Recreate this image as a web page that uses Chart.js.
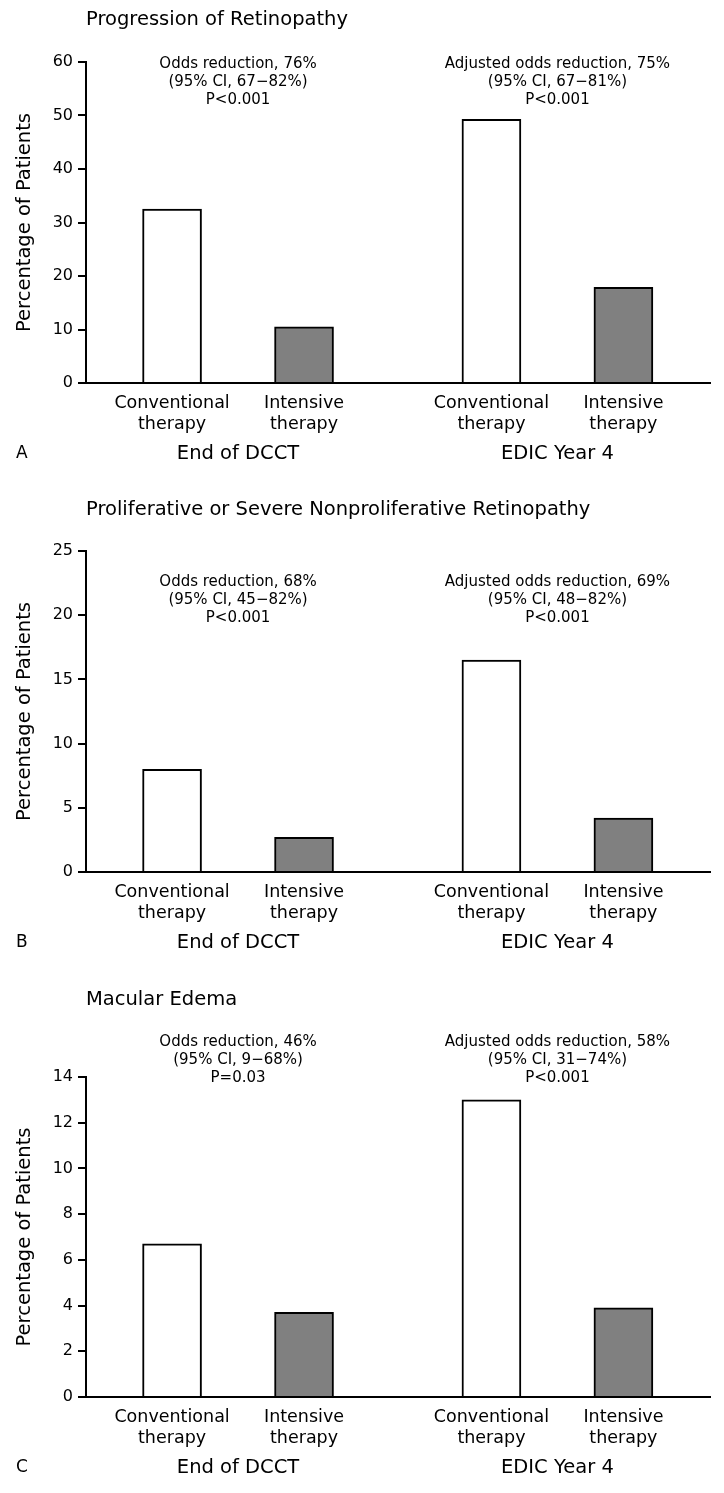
<!DOCTYPE html>
<html>
<head>
<meta charset="utf-8">
<script src="https://cdn.jsdelivr.net/npm/chart.js@4"></script>
<style>
  body { margin: 0; background: #fff; }
  .panel { position: absolute; left: 0; }
</style>
</head>
<body>
<canvas id="panelA" class="panel" width="724" height="490" style="top:0px"></canvas>
<canvas id="panelB" class="panel" width="724" height="490" style="top:490px"></canvas>
<canvas id="panelC" class="panel" width="724" height="513" style="top:980px"></canvas>
<script>
// categories
const groups = ["End of DCCT", "EDIC Year 4"];
const therapies = [["Conventional", "therapy"], ["Intensive", "therapy"], ["Conventional", "therapy"], ["Intensive", "therapy"]];

// series values (% of patients: conventional, intensive, conventional, intensive)
const progression = [32.5, 10.5, 49.3, 17.9];
const severeRetinopathy = [8.0, 2.7, 16.5, 4.2];
const macularEdema = [6.7, 3.7, 13.0, 3.9];

// y tick labels
const ticksA = [0, 10, 20, 30, 40, 50, 60];
const ticksB = [0, 5, 10, 15, 20, 25];
const ticksC = [0, 2, 4, 6, 8, 10, 12, 14];

// annotation texts
const notesA = [["Odds reduction, 76%", "(95% CI, 67\u221282%)", "P<0.001"], ["Adjusted odds reduction, 75%", "(95% CI, 67\u221281%)", "P<0.001"]];
const notesB = [["Odds reduction, 68%", "(95% CI, 45\u221282%)", "P<0.001"], ["Adjusted odds reduction, 69%", "(95% CI, 48\u221282%)", "P<0.001"]];
const notesC = [["Odds reduction, 46%", "(95% CI, 9\u221268%)", "P=0.03"], ["Adjusted odds reduction, 58%", "(95% CI, 31\u221274%)", "P<0.001"]];

// bar slots on the x axis (gap between the two groups)
const slots = [0, 1, 2.42, 3.42];
const fills = ["#ffffff", "#808080", "#ffffff", "#808080"];
const FONT = '"DejaVu Sans", sans-serif';

const panelText = {
    id: "panelText",
    afterDraw(chart, args, o) {
        const { ctx, chartArea } = chart;
        const x = chart.scales.x;
        ctx.save();
        ctx.fillStyle = "#000";
        ctx.textBaseline = "middle";

        ctx.textAlign = "left";
        ctx.font = "19.5px " + FONT;
        ctx.fillText(o.title, chartArea.left, 20);

        ctx.font = "17px " + FONT;
        ctx.fillText(o.letter, 16, chartArea.bottom + 71);

        ctx.textAlign = "center";
        groups.forEach((g, i) => {
            const cx = (x.getPixelForValue(slots[i * 2]) + x.getPixelForValue(slots[i * 2 + 1])) / 2;
            ctx.font = "19.5px " + FONT;
            ctx.fillText(g, cx, chartArea.bottom + 71);
            ctx.font = "15px " + FONT;
            o.notes[i].forEach((line, j) => {
                ctx.fillText(line, cx, o.noteTop + j * 18);
            });
        });
        ctx.restore();
    }
};

function makePanel(id, values, yTicks, title, letter, notes, noteTop, padTop, xHeight) {
    new Chart(document.getElementById(id), {
        type: "bar",
        data: {
            datasets: [{
                data: values.map((v, i) => ({ x: slots[i], y: v })),
                backgroundColor: fills,
                borderColor: "#000",
                borderWidth: 2,
                barThickness: 59
            }]
        },
        plugins: [panelText],
        options: {
            responsive: false,
            animation: false,
            devicePixelRatio: 1,
            layout: { padding: { top: padTop, right: 14, bottom: 0, left: 0 } },
            plugins: {
                legend: { display: false },
                tooltip: { enabled: false },
                panelText: { title: title, letter: letter, notes: notes, noteTop: noteTop }
            },
            scales: {
                x: {
                    type: "linear",
                    offset: false,
                    min: -0.652,
                    max: 4.076,
                    afterBuildTicks: (s) => { s.ticks = slots.map(v => ({ value: v })); },
                    afterFit: (s) => { s.height = xHeight; },
                    grid: { display: false },
                    border: { display: true, color: "#000", width: 2 },
                    ticks: {
                        autoSkip: false,
                        maxRotation: 0,
                        padding: 2,
                        color: "#000",
                        font: { family: FONT, size: 17.5, lineHeight: 1.2 },
                        callback: (v, i) => therapies[i]
                    }
                },
                y: {
                    min: yTicks[0],
                    max: yTicks[yTicks.length - 1],
                    afterFit: (s) => { s.width = 86; },
                    grid: { drawOnChartArea: false, drawTicks: true, tickLength: 8, color: "#000", lineWidth: 2 },
                    border: { display: true, color: "#000", width: 2 },
                    ticks: {
                        stepSize: yTicks[1] - yTicks[0],
                        padding: 5,
                        color: "#000",
                        font: { family: FONT, size: 16 }
                    },
                    title: {
                        display: true,
                        text: "Percentage of Patients",
                        color: "#000",
                        padding: { top: 13, bottom: 0 },
                        font: { family: FONT, size: 19.5 }
                    }
                }
            }
        }
    });
}

makePanel("panelA", progression, ticksA, "Progression of Retinopathy", "A", notesA, 64, 62, 107);
makePanel("panelB", severeRetinopathy, ticksB, "Proliferative or Severe Nonproliferative Retinopathy", "B", notesB, 92, 61, 108);
makePanel("panelC", macularEdema, ticksC, "Macular Edema", "C", notesC, 62, 97, 96);
</script>
</body>
</html>
